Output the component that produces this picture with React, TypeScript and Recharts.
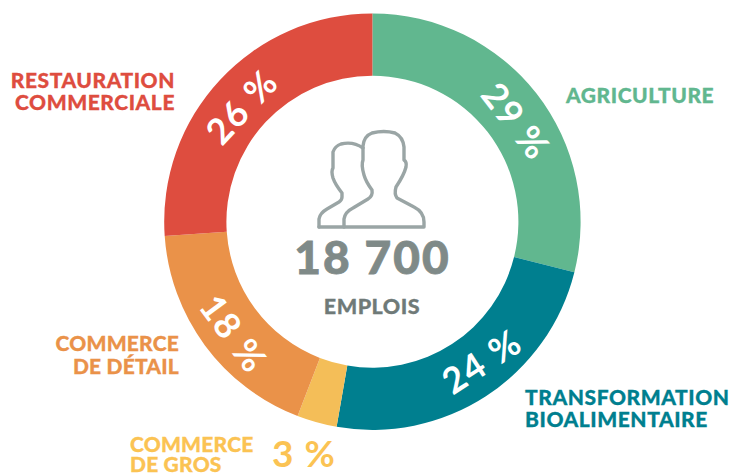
import React from "react";
import { PieChart, Pie, Cell } from "recharts";

const categories = [
  ["AGRICULTURE"],
  ["TRANSFORMATION", "BIOALIMENTAIRE"],
  ["COMMERCE", "DE GROS"],
  ["COMMERCE", "DE DÉTAIL"],
  ["RESTAURATION", "COMMERCIALE"],
];
// pourcentages affiches
const shares = [29, 24, 3, 18, 26];
// taille des arcs (pas tout a fait les valeurs arrondies)
const arcSizes = [28.9, 23.85, 3.1, 18.05, 26.1];
const colors = ["#61B78F", "#007F8F", "#F4BE58", "#EA9249", "#DE4D3F"];
const labelColors = ["#61B78F", "#007F8F", "#FBC353", "#EA9249", "#DE4D3F"];
const totalLabel = "18 700";
const unitLabel = "EMPLOIS";

const chartData = categories.map((lines, i) => ({ name: lines.join(" "), value: arcSizes[i] }));

// ou placer les noms de secteurs autour de l'anneau
const nameLayout = [
  { x: 566, y: 103, anchor: "start", lineGap: 22, spacing: 0.55 },
  { x: 525, y: 405, anchor: "start", lineGap: 22, spacing: 0.55 },
  { x: 130, y: 452, anchor: "start", lineGap: 20, spacing: 0.2 },
  { x: 179, y: 351, anchor: "end", lineGap: 23, spacing: 0.2 },
  { x: 175, y: 88, anchor: "end", lineGap: 22, spacing: 0.55 },
];
const percentNudge = [
  [7, 6],
  [14, -7],
  [0, 0],
  [2, 8],
  [-4, 3],
];

const FONT = "Lato, 'Open Sans', sans-serif";
const RADIAN = Math.PI / 180;
const SMALL_SHARE = 5;

const renderLabel = (props: any) => {
  const { cx, cy, midAngle, innerRadius, outerRadius, index } = props;
  const value = shares[index];
  const layout = nameLayout[index];
  const r = (innerRadius + outerRadius) / 2 - 3;
  const px = cx + r * Math.cos(-midAngle * RADIAN) + percentNudge[index][0];
  const py = cy + r * Math.sin(-midAngle * RADIAN) + percentNudge[index][1];
  // angle depuis le haut, retourne pour rester lisible
  let rot = 90 - midAngle;
  if (rot < 0) rot += 360;
  if (rot > 90 && rot < 270) rot -= 180;
  else if (rot >= 270) rot -= 360;

  return (
    <g key={index} fontFamily={FONT}>
      {value > SMALL_SHARE ? (
        <text
          x={px}
          y={py}
          fill="#fff"
          fontSize={36}
          fontWeight={700}
          letterSpacing={1.5}
          textAnchor="middle"
          dominantBaseline="central"
          transform={`rotate(${rot} ${px} ${py})`}
        >
          {value} %
        </text>
      ) : (
        <text x={272} y={467} fill={labelColors[index]} fontSize={37} fontWeight={700} letterSpacing={1}>
          {value} %
        </text>
      )}
      <text
        x={layout.x}
        y={layout.y}
        fill={labelColors[index]}
        stroke={labelColors[index]}
        strokeWidth={0.3}
        fontSize={21}
        fontWeight={900}
        letterSpacing={layout.spacing}
        textAnchor={layout.anchor as any}
      >
        {categories[index].map((line, j) => (
          <tspan key={line} x={layout.x} y={layout.y + j * layout.lineGap}>
            {line}
          </tspan>
        ))}
      </text>
    </g>
  );
};

const App: React.FC = () => {
  return (
    <div style={{ position: "absolute", left: 0, top: 0, width: 730, height: 475 }}>
      <PieChart width={730} height={475} margin={{ top: 0, right: 0, bottom: 0, left: 0 }}>
        <Pie
          data={chartData}
          dataKey="value"
          cx={372.4}
          cy={221.7}
          innerRadius={146}
          outerRadius={208.2}
          startAngle={90}
          endAngle={-270}
          stroke="none"
          labelLine={false}
          label={renderLabel}
          isAnimationActive={false}
        >
          {chartData.map((d, i) => (
            <Cell key={d.name} fill={colors[i]} />
          ))}
        </Pie>
        <g fill="none" stroke="#9AA5A5" strokeWidth={3.4} strokeLinejoin="round" strokeLinecap="round">
          <path d="M319 227 L319 219 Q320 213 327 209 L339 202 Q342 200 342 197 L342 193 Q335 184 333 178 Q331 171 333 168 L333 152 Q335 146 341 144 Q353 141 363 148" />
          <path d="M344 227 L344 219 Q345 212 353 208 L368 199 Q373 196 372 190 Q366 182 364 175 Q361 165 363 160 L363 146 Q364 136 372 133 Q384 130 395 133 Q403 137 404 147 L404 160 Q407 162 406 167 Q404 175 396 187 Q394 194 397 198 L414 207 Q424 212 424 222 L424 227 Z" />
          <path d="M319 227 L344 227" />
        </g>
        <text x={372.5} y={274} textAnchor="middle" fontFamily={FONT} fontSize={46} fontWeight={900} fill="#7F8A88" stroke="#7F8A88" strokeWidth={0.8} letterSpacing={2}>
          {totalLabel}
        </text>
        <text x={372} y={314} textAnchor="middle" fontFamily={FONT} fontSize={21.5} fontWeight={900} fill="#6F7A78" stroke="#6F7A78" strokeWidth={0.3} letterSpacing={0.5}>
          {unitLabel}
        </text>
      </PieChart>
    </div>
  );
};

export default App;
